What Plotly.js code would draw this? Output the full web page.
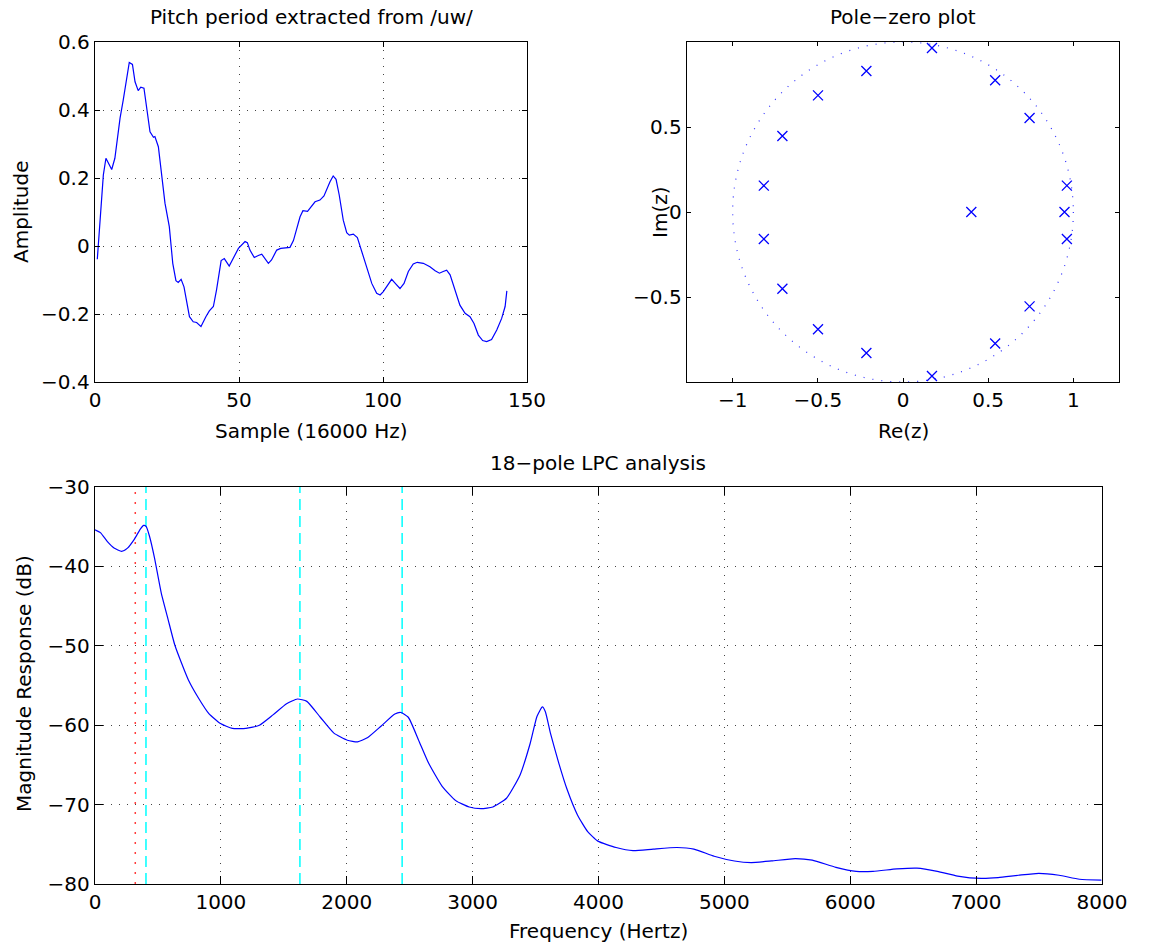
<!DOCTYPE html>
<html>
<head>
<meta charset="utf-8">
<script src="https://cdn.plot.ly/plotly-3.0.1.min.js"></script>
<style>html,body{margin:0;padding:0;background:#fff;}#chart{width:1151px;height:949px;}</style>
</head>
<body>
<div id="chart"></div>
<script>
// ---- Pitch period waveform ----
const sampleIndex = [0.8,2.9,3.8,5.8,6.9,8.7,9.8,11.9,13.0,13.9,15.0,15.9,17.0,17.9,19.1,20.3,20.8,22.0,23.2,24.3,25.8,27.0,28.1,28.9,29.9,30.9,32.8,34.1,35.3,36.8,38.5,39.7,41.1,42.2,43.8,44.9,46.6,48.0,49.8,52.1,52.9,53.8,55.3,56.7,57.9,60.2,61.3,63.1,64.5,67.7,68.9,71.2,72.2,73.8,76.4,78.1,79.5,81.6,82.7,83.7,84.8,86.2,87.4,88.3,89.7,91.1,92.6,94.3,96.1,97.8,99.0,100.1,101.5,103.0,104.5,105.9,107.3,108.8,110.5,111.9,114.0,116.3,118.1,119.6,120.9,122.1,123.3,125.0,126.7,128.5,130.2,131.6,133.1,134.6,136.0,137.7,139.5,141.2,142.4,143.0];
const amplitude = [-0.039,0.209,0.258,0.225,0.258,0.376,0.429,0.540,0.534,0.483,0.457,0.467,0.464,0.410,0.336,0.320,0.322,0.292,0.214,0.126,0.057,-0.051,-0.102,-0.107,-0.098,-0.120,-0.208,-0.223,-0.225,-0.237,-0.208,-0.191,-0.178,-0.129,-0.043,-0.037,-0.059,-0.036,-0.007,0.013,0.010,-0.012,-0.034,-0.028,-0.024,-0.051,-0.041,-0.012,-0.007,-0.004,0.016,0.086,0.104,0.102,0.130,0.135,0.147,0.189,0.206,0.196,0.150,0.076,0.039,0.032,0.035,0.025,-0.017,-0.066,-0.110,-0.139,-0.144,-0.134,-0.115,-0.098,-0.112,-0.125,-0.110,-0.075,-0.053,-0.048,-0.051,-0.061,-0.073,-0.080,-0.075,-0.071,-0.085,-0.129,-0.174,-0.198,-0.208,-0.228,-0.262,-0.278,-0.281,-0.275,-0.247,-0.213,-0.178,-0.132];

// ---- Poles (pole-zero plot) ----
const poleRe = [0.170,-0.215,-0.499,-0.708,-0.817,-0.817,-0.708,-0.499,-0.215,0.170,0.541,0.743,0.962,0.948,0.962,0.743,0.541,0.401];
const poleIm = [0.965,0.829,0.686,0.447,0.155,-0.159,-0.451,-0.690,-0.829,-0.965,0.775,0.553,0.155,0.000,-0.159,-0.555,-0.774,0.000];
const unitCircleRadius = [1];

// ---- LPC magnitude response ----
const freqHz = [0,43,97,151,212,258,312,360,387,406,433,473,527,581,634,688,742,823,903,997,1091,1199,1306,1414,1522,1608,1683,1790,1898,2005,2086,2167,2274,2382,2430,2489,2570,2651,2758,2866,2973,3067,3161,3269,3376,3457,3511,3554,3578,3618,3685,3753,3833,3914,3995,4140,4274,4435,4623,4758,4919,5080,5214,5375,5563,5698,5886,6047,6181,6369,6530,6692,6853,7041,7175,7336,7498,7659,7821,7995];
const magnitudeDb = [-35.38,-35.75,-36.85,-37.69,-38.1,-37.7,-36.6,-35.3,-34.83,-34.96,-36.2,-38.95,-43.4,-46.7,-49.9,-52.2,-54.3,-56.6,-58.5,-59.8,-60.4,-60.4,-60.0,-58.7,-57.3,-56.7,-57.0,-59.0,-61.0,-61.9,-62.1,-61.55,-60.1,-58.6,-58.4,-59.0,-61.85,-64.8,-67.7,-69.5,-70.3,-70.5,-70.3,-69.2,-66.3,-62.3,-58.9,-57.7,-58.3,-61.0,-64.8,-68.2,-71.3,-73.4,-74.6,-75.4,-75.8,-75.6,-75.4,-75.6,-76.5,-77.1,-77.3,-77.1,-76.8,-77.0,-77.9,-78.4,-78.4,-78.1,-78.0,-78.4,-79.0,-79.3,-79.2,-78.9,-78.65,-78.9,-79.4,-79.5];
const pitchMarkerHz = [320];
const formantHz = [405, 1628, 2440];

// ---- Tick labels ----
const ampTicks = [-0.4,-0.2,0,0.2,0.4,0.6];
const sampleTicks = [0,50,100,150];
const reTicks = [-1,-0.5,0,0.5,1];
const imTicks = [-0.5,0,0.5];
const freqTicks = [0,1000,2000,3000,4000,5000,6000,7000,8000];
const dbTicks = [-80,-70,-60,-50,-40,-30];

const W = 1151, H = 949;
const FONT = 'DejaVu Sans, sans-serif';
const FS = 20;
const px = v => v / W;
const py = v => 1 - v / H;

function axisBase(extra) {
  return Object.assign({
    showline: true, linecolor: '#000', linewidth: 1.3, mirror: 'ticks',
    ticks: 'inside', ticklen: 5, tickcolor: '#000', tickwidth: 1,
    showgrid: true, gridcolor: '#444', griddash: '1px,7px', gridwidth: 1,
    zeroline: false, tickfont: {family: FONT, size: FS, color: '#000'},
    fixedrange: true, tickmode: 'array'
  }, extra);
}

const traces = [
  {x: sampleIndex, y: amplitude, xaxis: 'x', yaxis: 'y', type: 'scatter', mode: 'lines',
   line: {color: '#0000ff', width: 1.2}, hoverinfo: 'skip'},
  {x: poleRe, y: poleIm, xaxis: 'x2', yaxis: 'y2', type: 'scatter', mode: 'markers',
   marker: {symbol: 'x-thin-open', size: 10, color: '#0000ff', line: {color: '#0000ff', width: 1.3}}, hoverinfo: 'skip'},
  {x: freqHz, y: magnitudeDb, xaxis: 'x3', yaxis: 'y3', type: 'scatter', mode: 'lines',
   line: {color: '#0000ff', width: 1.2, shape: 'spline', smoothing: 0.5}, hoverinfo: 'skip'}
];

const shapes = [];
unitCircleRadius.forEach(r => shapes.push({type: 'circle', xref: 'x2', yref: 'y2', x0: -r, x1: r, y0: -r, y1: r,
  line: {color: 'rgba(0,0,255,0.8)', width: 1.2, dash: '1px,8px'}, layer: 'below'}));
pitchMarkerHz.forEach(f => shapes.push({type: 'line', xref: 'x3', yref: 'y3 domain', x0: f, x1: f, y0: 0, y1: 1,
  line: {color: 'rgba(255,40,40,0.9)', width: 1.5, dash: '2px,8px'}, layer: 'above'}));
formantHz.forEach(f => shapes.push({type: 'line', xref: 'x3', yref: 'y3 domain', x0: f, x1: f, y0: 0, y1: 1,
  line: {color: '#00ffff', width: 1.5, dash: '11px,6px'}, layer: 'below'}));

const ann = (text, x, y, angle) => ({text, x: px(x), y: py(y), xref: 'paper', yref: 'paper',
  showarrow: false, xanchor: 'center', yanchor: 'middle', textangle: angle || 0,
  font: {family: FONT, size: FS, color: '#000'}});

const layout = {
  width: W, height: H, margin: {l: 0, r: 0, t: 0, b: 0}, showlegend: false,
  paper_bgcolor: '#fff', plot_bgcolor: '#fff',
  xaxis: axisBase({domain: [px(95), px(527)], range: [0, 150], tickvals: sampleTicks, anchor: 'y', ticklen: 5}),
  yaxis: axisBase({domain: [py(382), py(42)], range: [-0.4, 0.6], tickvals: ampTicks, anchor: 'x', ticklen: 5}),
  xaxis2: axisBase({domain: [px(687), px(1119)], range: [-1.268, 1.268], tickvals: reTicks, anchor: 'y2', showgrid: false, ticklen: 4}),
  yaxis2: axisBase({domain: [py(382), py(42)], range: [-1, 1], tickvals: imTicks, anchor: 'x2', showgrid: false, ticklen: 4}),
  xaxis3: axisBase({domain: [px(95), px(1102)], range: [0, 8000], tickvals: freqTicks, anchor: 'y3', ticklen: 8}),
  yaxis3: axisBase({domain: [py(884), py(487)], range: [-80, -30], tickvals: dbTicks, anchor: 'x3', ticklen: 8}),
  shapes: shapes,
  annotations: [
    ann('Pitch period extracted from /uw/', 311, 17),
    ann('Pole\u2212zero plot', 903, 17),
    ann('18\u2212pole LPC analysis', 598, 463),
    ann('Sample (16000 Hz)', 311, 431),
    ann('Re(z)', 903, 431),
    ann('Frequency (Hertz)', 598, 931),
    ann('Amplitude', 21, 212, -90),
    ann('Im(z)', 660, 212, -90),
    ann('Magnitude Response (dB)', 24, 684, -90)
  ]
};

Plotly.newPlot('chart', traces, layout, {staticPlot: true, displayModeBar: false});
</script>
</body>
</html>
